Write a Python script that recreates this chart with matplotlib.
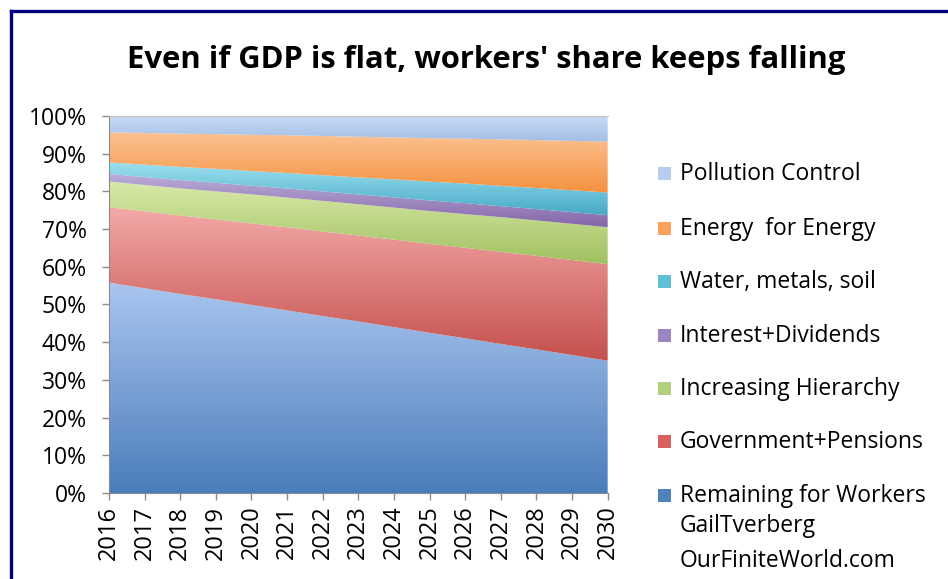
import numpy as np
import matplotlib
matplotlib.use('Agg')
import matplotlib.pyplot as plt
from matplotlib.colors import LinearSegmentedColormap
from matplotlib.lines import Line2D
from matplotlib.patches import Rectangle

plt.rcParams['font.family'] = ['Open Sans', 'DejaVu Sans']

years = list(range(2016, 2031))

# shares of GDP, in percent, bottom layer first
workers   = [55.8, 54.3, 52.8, 51.4, 49.9, 48.4, 46.9, 45.5, 44.0, 42.5, 41.0, 39.5, 38.1, 36.6, 35.1]
gov       = [20.0, 20.4, 20.8, 21.2, 21.6, 22.0, 22.4, 22.8, 23.2, 23.6, 24.0, 24.4, 24.8, 25.2, 25.6]
hierarchy = [6.8, 7.0, 7.2, 7.4, 7.7, 7.9, 8.1, 8.3, 8.5, 8.7, 8.9, 9.2, 9.4, 9.6, 9.8]
interest  = [2.0, 2.1, 2.2, 2.3, 2.3, 2.4, 2.5, 2.6, 2.7, 2.8, 2.9, 2.9, 3.0, 3.1, 3.2]
water     = [3.1, 3.3, 3.5, 3.7, 3.9, 4.1, 4.3, 4.5, 4.8, 5.0, 5.2, 5.4, 5.6, 5.8, 6.0]
energy    = [8.0, 8.4, 8.8, 9.2, 9.6, 10.0, 10.4, 10.8, 11.1, 11.5, 11.9, 12.3, 12.7, 13.1, 13.5]
pollution = [4.3, 4.5, 4.7, 4.8, 5.0, 5.1, 5.3, 5.5, 5.7, 5.9, 6.0, 6.2, 6.4, 6.6, 6.8]

labels = ['Remaining for Workers', 'Government+Pensions', 'Increasing Hierarchy',
          'Interest+Dividends', 'Water, metals, soil', 'Energy  for Energy',
          'Pollution Control']
series = [workers, gov, hierarchy, interest, water, energy, pollution]
# (top colour, bottom colour) of each band's gradient
grads = [('#aac6ef', '#4a7dbb'), ('#f3a9a8', '#c4504d'), ('#d9eaa9', '#a0c060'),
         ('#bcaed9', '#8466a8'), ('#9ce0ef', '#47aac6'), ('#fcc293', '#f5913e'),
         ('#c8dbf6', '#a2bde4')]
swatch = ['#4f81bd', '#d9605c', '#b2d07e', '#9a85c0', '#5ec0d8', '#f8a25e', '#b7cdee']

fig = plt.figure(figsize=(9.48, 5.79), dpi=100)
ax = fig.add_axes([0.115, 0.1485, 0.526, 0.6512])

x = np.array(years, dtype=float)
data = np.array(series, dtype=float)
data = data / data.sum(axis=0) * 100
base = np.zeros_like(x)
for vals, (top_c, bot_c) in zip(data, grads):
    upper = base + vals
    poly = ax.fill_between(x, base, upper, facecolor='none', edgecolor='none')
    cmap = LinearSegmentedColormap.from_list('g', [bot_c, top_c])
    grad = np.linspace(0, 1, 256).reshape(-1, 1)
    img = ax.imshow(grad, extent=[x[0], x[-1], base.min(), upper.max()],
                    aspect='auto', origin='lower', cmap=cmap, zorder=1)
    img.set_clip_path(poly.get_paths()[0], transform=ax.transData)
    base = upper

ax.set_xlim(2016, 2030)
ax.set_ylim(0, 100)
ax.set_xticks(years)
ax.set_xticklabels([str(y) for y in years], rotation=90, fontsize=17)
ax.set_yticks(range(0, 101, 10))
ax.set_yticklabels([f'{v}%' for v in range(0, 101, 10)], fontsize=16.5)
ax.tick_params(axis='both', direction='out', length=5, color='#8c8c8c', width=1)
ax.tick_params(axis='y', pad=11)
ax.tick_params(axis='x', pad=4)
for s in ['left', 'bottom']:
    ax.spines[s].set_color('#8c8c8c')
ax.spines['right'].set_visible(False)
ax.spines['top'].set_color('#c0c0c0')

fig.text(0.513, 0.897, "Even if GDP is flat, workers' share keeps falling",
         ha='center', va='center', fontsize=22.3, fontweight='bold')

# legend, top entry first
leg_y = [174, 229, 282, 336, 389, 442, 496]
for yy, lab, col in zip(leg_y, labels[::-1], swatch[::-1]):
    fy = 1 - yy / 579
    fig.patches.append(Rectangle((658 / 948, fy - 6 / 579), 13 / 948, 13 / 579,
                                 transform=fig.transFigure, facecolor=col,
                                 edgecolor='none'))
    fig.text(680 / 948, fy, lab, ha='left', va='center', fontsize=16.5)
fig.text(680 / 948, 1 - 526 / 579, 'GailTverberg', ha='left', va='center', fontsize=16.5)
fig.text(680 / 948, 1 - 561 / 579, 'OurFiniteWorld.com', ha='left', va='center', fontsize=16.5)

# navy frame (top and left edges)
fig.add_artist(Line2D([10.5 / 948, 1], [1 - 11 / 579, 1 - 11 / 579],
                      transform=fig.transFigure, color='#000080', lw=2.4))
fig.add_artist(Line2D([10.5 / 948, 10.5 / 948], [0, 1 - 11 / 579],
                      transform=fig.transFigure, color='#000080', lw=2.4))

fig.savefig('out.png', dpi=100)
